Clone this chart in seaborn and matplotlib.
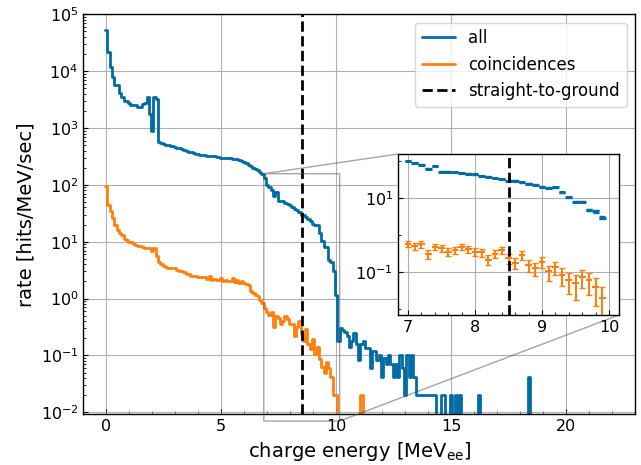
import numpy as np
import pandas as pd
import matplotlib
matplotlib.use("Agg")
import matplotlib.pyplot as plt
from matplotlib.ticker import (FixedLocator, NullFormatter, AutoMinorLocator,
                               LogLocator)
import seaborn as sns

# binning of the charge-energy spectra (bin centres at multiples of 0.1 MeV)
bin_width = 0.1          # MeV
livetime_s = 490.0       # s, for Poisson errors
e_threshold = 8.5        # MeV, straight-to-ground cut

# rate of all hits [hits/MeV/sec], one entry per 0.1 MeV bin starting at 0.0 MeV
rate_all = [
    52000, 22000, 12000, 7900, 5600, 5600, 4100, 3500, 3000, 3000,
    2750, 2500, 2500, 2500, 2300, 2300, 2600, 2750, 3500, 1800,
    870, 3500, 3300, 570, 550, 525, 510, 500, 490, 478,
    457, 447, 437, 427, 417, 400, 380, 372, 363, 355,
    347, 340, 333, 330, 324, 322, 316, 316, 309, 309,
    302, 302, 300, 297, 295, 290, 285, 282, 275, 262,
    250, 240, 228, 214, 200, 190, 180, 170, 158, 130,
    100, 91, 81, 63, 74, 52, 52, 51, 48, 46,
    44, 40, 38, 35.5, 33, 30, 29.5, 27, 25, 23.5,
    20.4, 19.5, 20, 14.5, 10.5, 8.1, 8.1, 4.7, 4.4, 3.0,
    1.17, 0.18, 0.30, 0.28, 0.26, 0.22, 0.14, 0.18, 0.25, 0.16,
    0.082, 0.16, 0.18, 0.135, 0.135, 0.061, 0.12, 0.12, 0.082, 0.10,
    0.041, 0.09, 0.07, 0.10, 0.07, 0.041, 0.07, 0.041, 0.10, 0.061,
    0.020, 0.10, 0.041, 0.10, 0.041, 0.020, 0.020, 0.020, 0.020, 0.020,
    0.020, 0.020, 0.020, 0.020, 0, 0, 0.020, 0.020, 0, 0,
    0.020, 0, 0.020, 0, 0.020, 0, 0, 0, 0, 0,
    0, 0, 0.020, 0, 0, 0, 0, 0, 0, 0,
    0, 0, 0, 0, 0, 0, 0, 0, 0, 0,
    0, 0, 0, 0, 0.041, 0, 0, 0, 0, 0,
]

# rate of coincidences [hits/MeV/sec]
rate_coinc = [
    95, 45, 34, 26, 20, 16, 14, 13, 11.2, 10.7,
    10, 9.8, 9.3, 8.9, 8.5, 8.3, 8.1, 7.8, 7.6, 7.6,
    6.8, 7.6, 5.6, 4.4, 4.0, 3.7, 3.6, 3.5, 3.5, 3.4,
    3.5, 3.2, 3.1, 3.0, 2.9, 2.75, 2.7, 2.5, 2.45, 2.45,
    2.4, 2.4, 2.35, 2.4, 2.25, 2.45, 2.15, 2.25, 2.1, 2.15,
    2.3, 2.0, 2.15, 2.05, 2.0, 2.3, 1.95, 2.15, 1.9, 2.0,
    1.86, 1.82, 1.74, 1.38, 1.26, 1.15, 1.10, 0.93, 0.83, 0.68,
    0.58, 0.51, 0.575, 0.31, 0.49, 0.45, 0.36, 0.40, 0.49, 0.43,
    0.36, 0.35, 0.22, 0.32, 0.40, 0.24, 0.18, 0.295, 0.16, 0.13,
    0.195, 0.105, 0.14, 0.085, 0.062, 0.05, 0.076, 0.06, 0.041, 0.020,
    0.020, 0, 0, 0, 0, 0, 0, 0, 0, 0,
    0, 0.020, 0, 0, 0, 0, 0, 0, 0, 0,
]

# axis ticks
energy_ticks = [0, 5, 10, 15, 20]
rate_ticks = [1e-2, 1e-1, 1e0, 1e1, 1e2, 1e3, 1e4, 1e5]
zoom_energy_ticks = [7, 8, 9, 10]
zoom_rate_ticks = [0.1, 10]

blue = "#006BA4"
orange = "#FF800E"

sns.set_style("white", {
    "axes.grid": True,
    "grid.color": "#b0b0b0",
    "axes.edgecolor": "black",
    "axes.labelcolor": "black",
    "text.color": "black",
    "xtick.color": "black",
    "ytick.color": "black",
    "xtick.direction": "in",
    "ytick.direction": "in",
    "xtick.bottom": True,
    "ytick.left": True,
})
plt.rcParams["font.family"] = ["DejaVu Sans"]
plt.rcParams["xtick.minor.visible"] = True
plt.rcParams["xtick.labelsize"] = 11.5
plt.rcParams["ytick.labelsize"] = 11.5
plt.rcParams["axes.linewidth"] = 1.0


def spectrum(rates):
    rates = np.asarray(rates, dtype=float)
    centers = np.round(np.arange(len(rates)) * bin_width, 2)
    edges = np.round(np.arange(len(rates) + 1) * bin_width - bin_width / 2, 3)
    frame = pd.DataFrame({"energy": centers, "rate": rates})
    return frame, edges.tolist()


fig = plt.figure(figsize=(6.41, 4.65), dpi=100)
ax = fig.add_axes([0.1300, 0.1090, 0.8607, 0.8602])

df_all, e_all = spectrum(rate_all)
df_co, e_co = spectrum(rate_coinc)

sns.histplot(data=df_all, x="energy", weights="rate", bins=e_all,
             element="step", fill=False, color=blue, linewidth=2, ax=ax,
             label="all")
sns.histplot(data=df_co, x="energy", weights="rate", bins=e_co,
             element="step", fill=False, color=orange, linewidth=2, ax=ax,
             label="coincidences")
ax.axvline(e_threshold, color="black", linestyle="--", linewidth=2,
           label="straight-to-ground")

ax.set_yscale("log")
ax.set_xlim(-1, 23)
ax.set_ylim(0.0092, 1e5)
ax.xaxis.set_major_locator(FixedLocator(energy_ticks))
ax.xaxis.set_minor_locator(AutoMinorLocator(5))
ax.yaxis.set_major_locator(FixedLocator(rate_ticks))
ax.yaxis.set_minor_locator(LogLocator(base=10, subs=np.arange(2, 10)))
ax.yaxis.set_minor_formatter(NullFormatter())
ax.set_xlabel("charge energy [MeV$_{\\mathregular{ee}}$]", fontsize=14)
ax.set_ylabel("rate [hits/MeV/sec]", fontsize=14)
ax.legend(loc="upper right", fontsize=12)

# zoom on the region around the cut
axins = ax.inset_axes([0.5704, 0.2483, 0.4006, 0.4025])
for df, col, lw in ((df_all, blue, 2.2), (df_co, orange, 1.5)):
    sel = df[(df.energy > 6.95) & (df.energy < 9.95) & (df.rate > 0)]
    counts = sel.rate * bin_width * livetime_s
    err = np.sqrt(counts) / (bin_width * livetime_s)
    axins.errorbar(sel.energy, sel.rate, xerr=bin_width / 2, fmt="none",
                   ecolor=col, elinewidth=lw, capsize=0)
    axins.errorbar(sel.energy, sel.rate, yerr=err, fmt="none",
                   ecolor=col, elinewidth=1.5, capsize=2.4)
axins.axvline(e_threshold, color="black", linestyle="--", linewidth=2)
axins.set_yscale("log")
axins.set_xlim(6.85, 10.15)
axins.set_ylim(0.0070, 157)
axins.xaxis.set_major_locator(FixedLocator(zoom_energy_ticks))
axins.xaxis.set_minor_locator(AutoMinorLocator(5))
axins.yaxis.set_major_locator(FixedLocator(zoom_rate_ticks))
axins.yaxis.set_minor_locator(FixedLocator([0.01, 1, 100]))
axins.yaxis.set_minor_formatter(NullFormatter())
axins.grid(True, color="#b0b0b0")
ax.indicate_inset_zoom(axins, edgecolor="0.3")

fig.savefig("out.png", dpi=100)
